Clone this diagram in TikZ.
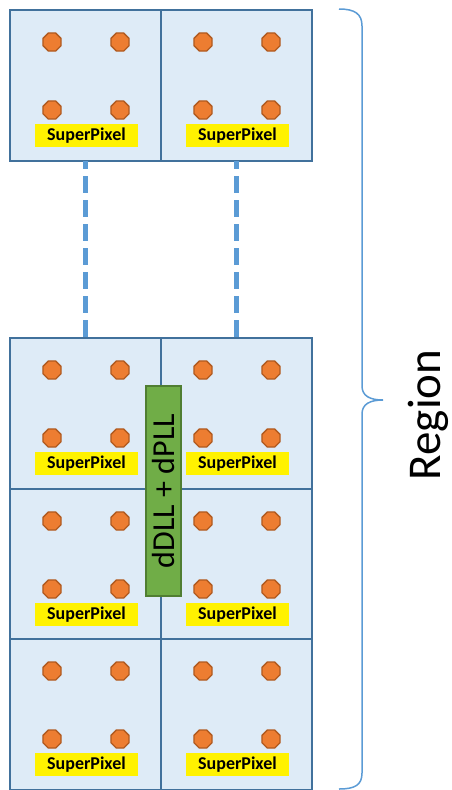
\documentclass[tikz,border=0pt]{standalone}
\usepackage{fontspec}
\setmainfont{Carlito}
\usetikzlibrary{shapes.geometric}
\definecolor{cellfill}{HTML}{DEEBF7}
\definecolor{cellline}{HTML}{41719C}
\definecolor{dotfill}{HTML}{ED7D31}
\definecolor{dotline}{HTML}{B05A20}
\definecolor{lblue}{HTML}{5B9BD5}
\definecolor{gfill}{HTML}{70AD47}
\definecolor{gline}{HTML}{507E32}
\tikzset{
  cell/.style={draw=cellline, fill=cellfill, line width=2.6pt, minimum width=151pt, minimum height=151pt, inner sep=0pt, outer sep=0pt},
  pixdot/.style={regular polygon, regular polygon sides=8, draw=dotline, fill=dotfill, line width=1.4pt, minimum size=19.5pt, inner sep=0pt},
  splabel/.style={fill=yellow, minimum width=103pt, minimum height=23pt, inner sep=0pt, font=\fontsize{18}{18}\selectfont\bfseries},
  linkline/.style={draw=lblue, line width=5pt, dash pattern=on 17pt off 7pt, dash phase=9pt},
  pll/.style={draw=gline, fill=gfill, line width=2pt, minimum width=35pt, minimum height=210pt, inner sep=0pt},
}
\newcommand{\spcell}[3]{% name, x, y (top-left)
  \node[cell] (#1) at (#2+75.5, #3+75.5) {};
  \node[pixdot] (#1d1) at (#2+42, #3+32) {};
  \node[pixdot] (#1d2) at (#2+110, #3+32) {};
  \node[pixdot] (#1d3) at (#2+42, #3+100) {};
  \node[pixdot] (#1d4) at (#2+110, #3+100) {};
  \node[splabel] (#1l) at (#2+76.5, #3+125.5) {SuperPixel};
}
\begin{document}
\begin{tikzpicture}[x=1pt, y=-1pt]
\useasboundingbox (0,0) rectangle (452,790);
\spcell{a}{10}{10}
\spcell{b}{161}{10}
\spcell{c}{10}{338}
\spcell{d}{161}{338}
\spcell{e}{10}{489}
\spcell{f}{161}{489}
\spcell{g}{10}{639}
\spcell{h}{161}{639}
\draw[linkline] (a.south) -- (c.north);
\draw[linkline] (b.south) -- (d.north);
\node[pll] (pll) at (163.5, 491) {};
\node[rotate=90, font=\fontsize{32}{32}\selectfont] (plltext) at (pll.center) {dDLL + dPLL};
\draw[lblue, line width=1.5pt]
  (339,9) .. controls (355,9) and (362,14) .. (362,26)
  -- (362,386) .. controls (362,396) and (370,400) .. (383,400)
  .. controls (370,400) and (362,404) .. (362,414)
  -- (362,773) .. controls (362,785) and (355,789) .. (339,789);
\node[rotate=90, font=\fontsize{47}{47}\selectfont] (region) at (428,415) {Region};
\end{tikzpicture}
\end{document}
